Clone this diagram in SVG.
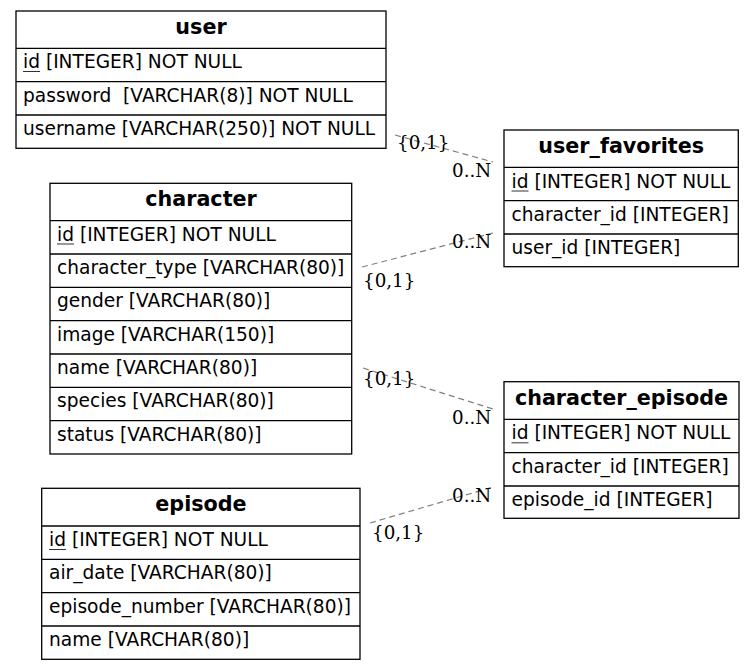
<svg xmlns="http://www.w3.org/2000/svg" width="755" height="670" viewBox="0 0 755 670">
  <style>
    .bg { fill: #ffffff; }
    .box { fill: #ffffff; stroke: #000000; stroke-width: 1.3; }
    .sep { stroke: #000000; stroke-width: 1.3; }
    .title { font-family: "DejaVu Sans", "Liberation Sans", sans-serif; font-weight: bold; font-size: 20.7px; fill: #000000; text-anchor: middle; }
    .col { font-family: "DejaVu Sans", "Liberation Sans", sans-serif; font-size: 18.6px; fill: #000000; white-space: pre; }
    .pk { stroke: #333333; stroke-width: 1; }
    .rel { fill: none; stroke: #808080; stroke-width: 1.2; stroke-dasharray: 6,4; }
    .card { font-family: "DejaVu Serif", "Liberation Serif", serif; font-size: 18.3px; fill: #000000; }
  </style>

  <rect class="bg" x="0" y="0" width="755" height="670"/>

  <!-- relationships -->
  <g id="connectors">
    <line class="rel" x1="395" y1="135" x2="493" y2="162"/>
    <line class="rel" x1="362" y1="267" x2="493" y2="233"/>
    <line class="rel" x1="363" y1="368" x2="493" y2="409"/>
    <line class="rel" x1="370" y1="523" x2="493" y2="487"/>
    <text class="card" x="397" y="149">{0,1}</text>
    <text class="card" x="452" y="177">0..N</text>
    <text class="card" x="363" y="287">{0,1}</text>
    <text class="card" x="452" y="248">0..N</text>
    <text class="card" x="363" y="385">{0,1}</text>
    <text class="card" x="452" y="424">0..N</text>
    <text class="card" x="372" y="539">{0,1}</text>
    <text class="card" x="452" y="502">0..N</text>
  </g>

  <!-- user -->
  <g id="user">
    <rect class="box" x="16" y="11" width="370" height="137.3"/>
    <line class="sep" x1="16" y1="48.3" x2="386" y2="48.3"/>
    <line class="sep" x1="16" y1="81.7" x2="386" y2="81.7"/>
    <line class="sep" x1="16" y1="115" x2="386" y2="115"/>
    <text class="title" x="201" y="34">user</text>
    <text class="col" x="23" y="68">id [INTEGER] NOT NULL</text>
    <line class="pk" x1="23" y1="71.5" x2="40" y2="71.5"/>
    <text class="col" x="23" y="101.5" xml:space="preserve">password  [VARCHAR(8)] NOT NULL</text>
    <text class="col" x="23" y="135">username [VARCHAR(250)] NOT NULL</text>
  </g>

  <!-- character -->
  <g id="character">
    <rect class="box" x="50" y="183.3" width="301.7" height="270.7"/>
    <line class="sep" x1="50" y1="220.7" x2="351.7" y2="220.7"/>
    <line class="sep" x1="50" y1="254" x2="351.7" y2="254"/>
    <line class="sep" x1="50" y1="287.3" x2="351.7" y2="287.3"/>
    <line class="sep" x1="50" y1="320.7" x2="351.7" y2="320.7"/>
    <line class="sep" x1="50" y1="354" x2="351.7" y2="354"/>
    <line class="sep" x1="50" y1="387.3" x2="351.7" y2="387.3"/>
    <line class="sep" x1="50" y1="420.7" x2="351.7" y2="420.7"/>
    <text class="title" x="201" y="206.3">character</text>
    <text class="col" x="57" y="240.5">id [INTEGER] NOT NULL</text>
    <line class="pk" x1="57" y1="244" x2="74" y2="244"/>
    <text class="col" x="57" y="274">character_type [VARCHAR(80)]</text>
    <text class="col" x="57" y="307.3">gender [VARCHAR(80)]</text>
    <text class="col" x="57" y="340.7">image [VARCHAR(150)]</text>
    <text class="col" x="57" y="374">name [VARCHAR(80)]</text>
    <text class="col" x="57" y="407.3">species [VARCHAR(80)]</text>
    <text class="col" x="57" y="440.7">status [VARCHAR(80)]</text>
  </g>

  <!-- episode -->
  <g id="episode">
    <rect class="box" x="41.7" y="488.3" width="318.3" height="171"/>
    <line class="sep" x1="41.7" y1="526" x2="360" y2="526"/>
    <line class="sep" x1="41.7" y1="559.3" x2="360" y2="559.3"/>
    <line class="sep" x1="41.7" y1="592.7" x2="360" y2="592.7"/>
    <line class="sep" x1="41.7" y1="626" x2="360" y2="626"/>
    <text class="title" x="201" y="511.3">episode</text>
    <text class="col" x="49" y="546">id [INTEGER] NOT NULL</text>
    <line class="pk" x1="49" y1="549.5" x2="66" y2="549.5"/>
    <text class="col" x="49" y="579.3">air_date [VARCHAR(80)]</text>
    <text class="col" x="49" y="612.7">episode_number [VARCHAR(80)]</text>
    <text class="col" x="49" y="646">name [VARCHAR(80)]</text>
  </g>

  <!-- user_favorites -->
  <g id="user_favorites">
    <rect class="box" x="504" y="130" width="234.3" height="136.7"/>
    <line class="sep" x1="504" y1="167.3" x2="738.3" y2="167.3"/>
    <line class="sep" x1="504" y1="200.7" x2="738.3" y2="200.7"/>
    <line class="sep" x1="504" y1="234" x2="738.3" y2="234"/>
    <text class="title" x="621.2" y="153">user_favorites</text>
    <text class="col" x="511.5" y="187.5">id [INTEGER] NOT NULL</text>
    <line class="pk" x1="511.5" y1="191" x2="528.5" y2="191"/>
    <text class="col" x="511.5" y="220.7">character_id [INTEGER]</text>
    <text class="col" x="511.5" y="254">user_id [INTEGER]</text>
  </g>

  <!-- character_episode -->
  <g id="character_episode">
    <rect class="box" x="504" y="381.7" width="235" height="136.6"/>
    <line class="sep" x1="504" y1="419.3" x2="739" y2="419.3"/>
    <line class="sep" x1="504" y1="452.7" x2="739" y2="452.7"/>
    <line class="sep" x1="504" y1="486" x2="739" y2="486"/>
    <text class="title" x="621.5" y="404.7">character_episode</text>
    <text class="col" x="511.5" y="439.3">id [INTEGER] NOT NULL</text>
    <line class="pk" x1="511.5" y1="442.8" x2="528.5" y2="442.8"/>
    <text class="col" x="511.5" y="472.7">character_id [INTEGER]</text>
    <text class="col" x="511.5" y="506">episode_id [INTEGER]</text>
  </g>
</svg>
